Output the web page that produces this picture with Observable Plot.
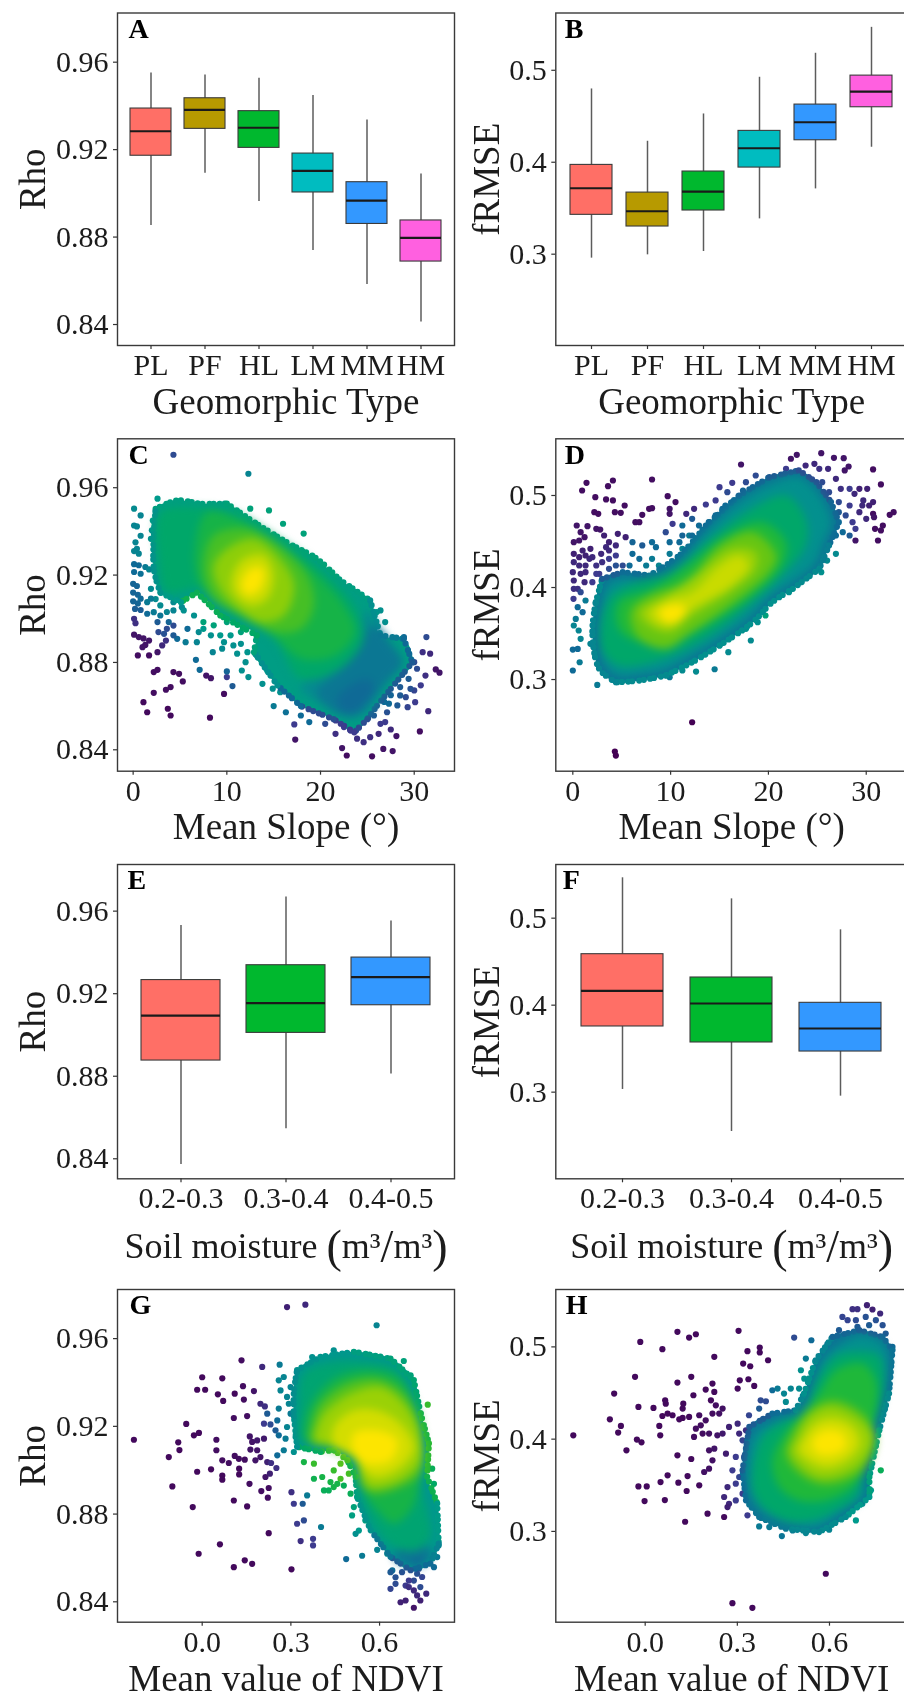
<!DOCTYPE html>
<html><head><meta charset="utf-8">
<script src="https://cdn.jsdelivr.net/npm/d3@7"></script>
<script src="https://cdn.jsdelivr.net/npm/@observablehq/plot@0.6"></script>
<style>
html,body{margin:0;padding:0;background:#fff;overflow:hidden}
#page{position:relative;width:904px;height:1698px;overflow:hidden;background:#fff;filter:blur(.35px)}
#page svg{position:absolute;background:transparent}
</style></head><body><div id="page"></div>
<script>
// ---- box-plot statistics ----
const geomorphicTypes=["PL","PF","HL","LM","MM","HM"];
const moistureClasses=["0.2-0.3","0.3-0.4","0.4-0.5"];
const aLow=[.8853,.9092,.8963,.8738,.8583,.8411];
const aQ1=[.9172,.9295,.9208,.9004,.8860,.8688];
const aMed=[.9284,.9382,.9300,.9103,.8967,.8796];
const aQ3=[.9388,.9435,.9376,.9182,.9051,.8876];
const aHigh=[.9551,.9541,.9527,.9448,.9336,.9089];
const bLow=[.2957,.2993,.3029,.3384,.3710,.4163];
const bQ1=[.3428,.3301,.3475,.3942,.4239,.4598];
const bMed=[.3717,.3467,.3681,.4152,.4435,.4768];
const bQ3=[.3971,.3670,.3899,.4341,.4627,.4942];
const bHigh=[.4797,.4228,.4525,.4924,.5185,.5467];
const eLow=[.8372,.8545,.8811];
const eQ1=[.8876,.9010,.9144];
const eMed=[.9094,.9154,.9280];
const eQ3=[.9266,.9338,.9375];
const eHigh=[.9531,.9668,.9552];
const fLow=[.3031,.2548,.2954];
const fQ1=[.3755,.3571,.3467];
const fMed=[.4165,.4019,.3732];
const fQ3=[.4586,.4318,.4027];
const fHigh=[.5464,.5222,.4866];
const geoColors=["#FF6F66","#B79A00","#00B82E","#00BCC0","#3398FF","#FF60E0"];
const moistColors=["#FF6F66","#00B82E","#3398FF"];

// ---- scatter: individually visible points [x, y, density] ----
const cDots=[[4.3,.9751,.2],[12.3,.9664,.38],[2.6,.955,.45],[.1,.9504,.4],[.8,.9473,.38],[.1,.9427,.38],[.4,.9423,.38],[2.1,.945,.45],[2,.9405,.42],[1.9,.9366,.42],[.8,.938,.38],[.25,.935,.38],[.4,.932,.38],[.1,.931,.38],[.6,.9298,.38],[12.5,.9504,.5],[14.5,.9496,.5],[16,.9435,.5],[18.2,.939,.5],[.1,.925,.3],[.6,.9245,.3],[1.3,.9237,.35],[.1,.9214,.3],[.8,.9206,.32],[1.7,.9226,.38],[0,.916,.28],[.4,.915,.28],[0,.912,.28],[.5,.911,.28],[0,.908,.28],[.5,.907,.28],[.2,.9045,.26],[.8,.904,.26],[.1,.9,.12],[.25,.898,.12],[.1,.8927,.05],[.6,.8916,.05],[1.1,.891,.05],[1.7,.89,.05],[1.3,.888,.05],[1,.887,.05],[.5,.8832,.03],[1.7,.8832,.03],[2.6,.8847,.05],[3.1,.8878,.1],[3.5,.89,.12],[2.2,.8756,.03],[2.6,.8766,.03],[4.3,.8756,.03],[4.9,.8748,.03],[5.3,.8713,.03],[4,.8687,.03],[3.5,.8675,.03],[2.2,.8661,.03],[1.1,.8618,.02],[1.5,.8572,.02],[3.7,.8588,.02],[4,.8557,.02],[8.2,.8547,.02],[9.7,.8656,.03],[10.6,.8692,.25],[10,.8733,.15],[10,.8759,.28],[8.3,.8728,.05],[7.8,.874,.05],[7.1,.8766,.3],[6.7,.8812,.3],[2.7,.8939,.2],[3.6,.8954,.2],[4.3,.8969,.2],[4.7,.8908,.3],[5.6,.8893,.35],[6.8,.8893,.38],[7,.8939,.4],[8.3,.8924,.42],[8.5,.8847,.38],[9.5,.8863,.4],[11.1,.884,.42],[12,.8801,.42],[11.6,.8763,.42],[12.3,.8733,.42],[13.6,.8817,.45],[14.3,.8763,.45],[13.8,.8702,.42],[14.9,.868,.42],[15.7,.8664,.42],[15,.86,.35],[16.3,.8572,.32],[17.2,.8516,.15],[17.3,.8447,.05],[1.9,.9137,.4],[2.4,.909,.4],[2.9,.9061,.4],[3.6,.9031,.38],[4.3,.9038,.38],[5.2,.9053,.4],[3.8,.8985,.28],[2.2,.903,.35],[1.5,.9076,.35],[7.5,.8985,.5],[8.6,.897,.5],[10,.8985,.5],[11.5,.8939,.5],[12.9,.8939,.5],[14,.891,.5],[15,.8832,.5],[16.4,.874,.48],[17.7,.8664,.45],[22.3,.8408,.05],[22.8,.8374,.03],[25.5,.837,.03],[26.7,.8404,.05],[27.7,.8394,.05],[30.6,.8484,.03],[31.5,.8577,.1],[28.1,.8463,.05],[27.5,.8493,.1],[26.2,.8473,.1],[25.3,.8458,.12],[24.6,.8435,.12],[23.9,.8451,.12],[23.2,.8488,.15],[21.6,.8473,.12],[20.5,.8519,.2],[18.8,.8527,.3],[17.9,.8557,.3],[22.5,.8504,.15],[24.1,.8504,.15],[25.7,.8557,.25],[27.1,.8572,.22],[26.4,.8519,.15],[26.9,.8527,.15],[31.3,.8916,.2],[28.9,.8916,.3],[30.9,.8847,.12],[31.7,.884,.1],[32.3,.8768,.05],[32.7,.8753,.05],[31.2,.874,.12],[30,.8801,.2],[30.3,.8771,.2],[29.4,.8725,.25],[30.7,.8695,.15],[30,.8672,.18],[29.1,.8641,.2],[30.1,.8618,.15],[29.3,.8595,.18],[28.5,.8687,.25],[27.7,.8725,.28],[27.1,.8664,.28],[28.2,.8603,.25],[27.3,.8611,.3],[26.2,.8626,.33],[26.8,.8847,.32],[27.8,.8878,.3],[26,.9031,.45],[26.9,.8985,.42],[26.4,.9038,.42],
[7.5,.9122,.55],[8.3,.9084,.58],[9,.9053,.58],[10,.9023,.58],[11.5,.8992,.58],[12.9,.8969,.58],[14.3,.8931,.55],[14.3,.8878,.5],[15.7,.8847,.5],[16.1,.8786,.48],[17.2,.8725,.45],[18.4,.868,.42],[19.6,.8641,.38],[21.1,.8603,.33],[23.2,.8534,.25],[13.2,.8832,.45],[14,.8817,.45],[12.2,.8847,.43],[10.7,.8878,.42],[11.5,.8885,.42],[9.7,.8893,.42],[9.3,.8924,.45],[10.4,.8924,.45],[7.5,.8954,.45],[5.8,.8954,.3],[4.3,.8924,.25],[3.3,.8931,.22],[2.9,.9015,.33],[4.3,.9076,.4],[5.4,.9038,.42],[6.5,.9015,.42],[1.9,.9092,.35],[.8,.9092,.3],[1.5,.9023,.3],[2.6,.8985,.25],[26.1,.8817,.3],[27.5,.88,.25],[28.5,.8771,.22],[28.9,.8817,.22],[26,.8725,.3],[25.3,.8679,.3],[25,.8634,.3],[26.8,.8619,.3],[27.5,.865,.28],[28.5,.8649,.25],[29.6,.8679,.22]];
const dDots=[[.95,.5054,.03],[1.4,.5138,.03],[3.6,.5101,.03],[4.1,.5163,.03],[8.1,.5174,.03],[17.2,.5337,.05],[22.3,.5399,.05],[22.9,.5442,.05],[25.4,.546,.05],[26.7,.5409,.05],[27.7,.5406,.05],[28.2,.5315,.05],[27.8,.5272,.05],[26.1,.529,.1],[30.7,.5283,.03],[31.5,.512,.03],[30.7,.4801,.03],[32.4,.479,.03],[32.8,.4819,.03],[31.7,.4674,.03],[30.9,.4638,.03],[31.5,.462,.03],[31.2,.4511,.03],[28.9,.4511,.05],[29.3,.5072,.08],[30.1,.5072,.08],[28.8,.5018,.1],[29.7,.4946,.1],[30.3,.4891,.08],[29.3,.4819,.1],[30,.4746,.1],[30.8,.4764,.05],[28.3,.4891,.15],[27.4,.5072,.12],[26.9,.5181,.1],[24.7,.5344,.1],[25.2,.529,.12],[23.8,.5326,.1],[21.8,.529,.15],[18.7,.5217,.2],[17.7,.5145,.2],[15,.509,.15],[16.3,.5138,.15],[15.8,.5036,.2],[13.6,.4902,.15],[14.6,.4946,.15],[12.4,.4855,.1],[11.6,.4801,.1],[10.5,.4928,.03],[9.7,.4993,.03],[9.9,.4855,.05],[9.9,.4801,.05],[8.1,.4862,.03],[7.8,.4855,.03],[7.1,.479,.03],[6.4,.471,.03],[6.8,.471,.03],[5.3,.4891,.03],[4.3,.4819,.03],[4.9,.4812,.03],[3.4,.4957,.03],[4.1,.4946,.03],[2.3,.4982,.03],[2.2,.4819,.03],[2.6,.4801,.03],[1.5,.4667,.05],[.4,.4674,.05],[2.4,.4638,.05],[2.8,.463,.05],[.8,.4601,.05],[1.2,.4547,.05],[.1,.4493,.05],[.65,.4511,.05],[3.2,.4565,.08],[3.7,.4493,.08],[4.6,.4583,.08],[5.4,.4547,.08],[4.4,.4457,.1],[3.4,.4438,.1],[1,.4402,.08],[1.8,.442,.08],[.1,.4366,.08],[.1,.4275,.1],[.65,.4239,.1],[0,.4167,.1],[.8,.4149,.1],[.1,.4076,.1],[1.2,.4058,.1],[.5,.3986,.12],[1.7,.4312,.1],[2.4,.4239,.12],[3,.4275,.12],[3.7,.4312,.15],[4.4,.4348,.15],[5.1,.4239,.2],[2.7,.4149,.15],[2,.4058,.15],[.07,.3877,.15],[1.3,.3859,.35],[.5,.3786,.3],[1,.3732,.3],[.3,.3659,.35],[.1,.3587,.38],[.6,.3533,.38],[.8,.3442,.38],[0,.3326,.3],[.5,.3333,.3],[.7,.3188,.35],[0,.3098,.3],[2.5,.2942,.35],[1.8,.3388,.38],[2.2,.3514,.4],[18.2,.3424,.4],[15.9,.3297,.4],[14.5,.3112,.35],[12.6,.3087,.4],[11.2,.3098,.4],[9.9,.3025,.35],[9.2,.308,.42],[6.1,.3007,.4],[4.6,.2978,.38],[12.2,.2536,0],[4.3,.2217,0],[4.4,.2174,0],[26.9,.4366,.4],[26,.4293,.4],[25.4,.4167,.42],[23.2,.4058,.42],[22.1,.3949,.42],[20.8,.3895,.5],[19.7,.3696,.5],[18.9,.3623,.42],[17.7,.3551,.42],[16.7,.3514,.42],[15,.337,.42],[27.6,.4601,.3],[28.3,.4565,.25],[27.2,.4819,.25],[11.9,.4565,.35],[12.9,.4674,.3],[11.2,.4674,.3],[12.2,.4746,.25],[13.9,.471,.3],[9.9,.4493,.3],[8.5,.4438,.3],[7.1,.4457,.25],[6.1,.4366,.3],[8.8,.4239,.38],[7.5,.4239,.35],[10.9,.4493,.3],[15.6,.4891,.3],
[6.1,.4493,.28],[8.1,.4493,.3],[9.5,.4601,.2],[10.2,.4692,.15],[11.2,.4565,.28],[12.2,.4565,.3],[13.3,.4601,.3],[14.6,.4783,.3],[15.3,.4855,.3],[16.3,.4928,.3],[17.4,.5054,.28],[20.1,.5163,.25],[8.1,.4312,.35],[9.9,.4366,.35],[11.2,.442,.38],[12.2,.4457,.38],[6.8,.4312,.3],[5.8,.4239,.3],[4.4,.4239,.22],[3.7,.4203,.2],[2.4,.4149,.15],[1.3,.4167,.1],[1.3,.4239,.1],[.65,.433,.08],[1.3,.4348,.08],[2,.433,.1],[2.9,.4366,.1],[3.7,.4402,.1],[.1,.3986,.12],[.8,.3949,.2],[28.6,.471,.15],[27.9,.4783,.2],[28.9,.4638,.15],[26.9,.4565,.3],[26.2,.5036,.2],[25.5,.5145,.2],[27.2,.4928,.2],[28.3,.5072,.15],[29.6,.4891,.1],[30.7,.4928,.08]];
const gDots=[[-.231,.9139,.02],[-.113,.906,.02],[-.101,.8926,.02],[-.081,.9127,.02],[-.077,.9092,.02],[-.054,.9211,.02],[-.028,.9159,.02],[-.011,.917,.02],[-.017,.9367,.02],[.01,.9367,.02],[0,.9424,.02],[.068,.9419,.02],[.053,.9346,.02],[.071,.9316,.02],[.11,.9349,.02],[.138,.9383,.03],[.141,.9322,.03],[.175,.9361,.05],[.133,.9501,.03],[.203,.9471,.1],[.262,.9481,.35],[.287,.9744,.08],[.349,.9755,.1],[.59,.9661,.38],[.682,.9498,.5],[.445,.9547,.42],[.372,.9516,.42],[.763,.9299,.68],[.705,.9433,.5],[.107,.9238,.03],[.152,.9247,.03],[.048,.9139,.03],[.048,.9091,.03],[.068,.9045,.03],[.09,.9033,.03],[.11,.9065,.03],[.124,.9052,.03],[.144,.9048,.03],[.161,.9154,.05],[.163,.9094,.05],[.169,.9129,.05],[.186,.9136,.06],[.209,.9144,.06],[.186,.9091,.05],[.18,.9045,.05],[.197,.906,.05],[.22,.9037,.08],[.233,.9033,.12],[.03,.9004,.02],[-.017,.8993,.02],[.068,.8976,.02],[.068,.8957,.02],[.125,.9007,.02],[.125,.8981,.02],[.214,.8969,.05],[.229,.8984,.08],[.251,.901,.12],[.16,.8938,.03],[.2,.8905,.03],[.225,.8919,.03],[.222,.8875,.03],[.107,.8862,.02],[.152,.8835,.02],[-.032,.8832,.02],[.225,.8713,.02],[.06,.8662,.02],[-.012,.8619,.02],[.107,.8558,.02],[.144,.8589,.02],[.169,.8573,.02],[.302,.8548,.02],[.302,.89,.12],[.31,.8847,.15],[.34,.8847,.25],[.355,.8885,.35],[.321,.8756,.15],[.344,.8771,.2],[.333,.8677,.12],[.375,.8687,.15],[.375,.8657,.15],[.402,.8741,.35],[.487,.8595,.3],[.541,.861,.35],[.592,.8637,.38],[.197,.9303,.1],[.212,.9291,.12],[.22,.9258,.25],[.209,.9212,.15],[.231,.9209,.2],[.254,.9227,.3],[.259,.9281,.35],[.248,.9182,.25],[.259,.9159,.3],[.282,.9144,.35],[.276,.9091,.35],[.254,.9068,.3],[.299,.9258,.35],[.287,.9334,.38],[.265,.9364,.38],[.276,.9425,.38],[.259,.941,.38],[.299,.9379,.38],[.293,.9303,.38],[.316,.9151,.42],[.31,.9083,.42],[.287,.9197,.38],[.344,.9037,.62],[.378,.903,.68],[.378,.8961,.6],[.406,.8969,.62],[.434,.8946,.62],[.412,.8908,.58],[.428,.8908,.58],[.468,.8961,.7],[.479,.893,.58],[.502,.8893,.58],[.513,.8832,.5],[.507,.8794,.48],[.53,.8725,.45],[.552,.8771,.48],[.626,.8619,.4],[.643,.8543,.3],[.654,.8482,.2],[.637,.8459,.18],[.688,.8474,.15],[.716,.8497,.2],[.738,.8467,.2],[.758,.8437,.1],[.671,.8398,.08],[.688,.8406,.08],[.716,.8373,.05],[.738,.8406,.08],[.727,.8528,.22],[.784,.8558,.3],[.795,.8604,.35],[.8,.8657,.38],[.784,.8938,.55],[.778,.9007,.58],[.699,.8497,.15],[.744,.8513,.18],[.733,.8551,.2],
[.716,.8452,.1],[.699,.8467,.12],[.727,.8429,.1],[.637,.8535,.25],[.654,.8512,.22],[.676,.8535,.22],[.519,.871,.42],[.445,.8999,.68],[.468,.903,.72],[.496,.8984,.7],[.445,.8923,.62],[.457,.8938,.62]];
const hDots=[[-.234,.4042,.02],[-.115,.4215,.02],[-.101,.4494,.02],[-.088,.4071,.02],[-.079,.4143,.02],[-.061,.3879,.02],[-.033,.4675,.02],[-.027,.3995,.02],[-.012,.3966,.02],[-.016,.5054,.02],[-.022,.4349,.02],[.027,.4338,.02],[.046,.4143,.02],[.049,.4042,.02],[.056,.4975,.02],[.065,.4421,.02],[.067,.4385,.02],[.056,.4251,.02],[.073,.4277,.02],[.089,.4259,.02],[.105,.4613,.02],[.105,.5163,.02],[.143,.5101,.02],[.165,.5137,.02],[.15,.4675,.02],[.157,.4476,.02],[.124,.4385,.02],[.122,.4331,.02],[.111,.4215,.02],[.122,.423,.02],[.143,.4241,.02],[.105,.3825,.02],[.15,.3785,.02],[.073,.3608,.02],[.05,.3535,.02],[.108,.3528,.02],[.138,.36,.02],[.135,.3438,.02],[.176,.3499,.02],[-.022,.3488,.02],[.005,.3488,.02],[-.002,.3329,.02],[.064,.334,.02],[.13,.3105,.02],[.203,.3192,.02],[.257,.3156,.02],[.197,.4537,.02],[.225,.4892,.02],[.219,.4602,.02],[.225,.4512,.02],[.214,.4421,.02],[.23,.4367,.03],[.252,.4331,.04],[.219,.4277,.03],[.241,.4277,.04],[.176,.4259,.03],[.197,.4204,.03],[.181,.415,.03],[.165,.4114,.03],[.159,.4024,.03],[.187,.406,.03],[.208,.406,.04],[.235,.4042,.05],[.252,.406,.06],[.208,.3879,.04],[.225,.3897,.05],[.263,.3843,.07],[.219,.377,.04],[.208,.368,.04],[.192,.3644,.04],[.273,.4132,.08],[.301,.4168,.1],[.306,.406,.1],[.328,.4096,.12],[.304,.5174,.02],[.333,.4953,.02],[.373,.4993,.02],[.373,.4939,.02],[.4,.4855,.02],[.319,.4819,.02],[.342,.479,.02],[.308,.4638,.02],[.301,.4548,.02],[.336,.4649,.02],[.355,.4577,.02],[.284,.2222,.02],[.349,.2172,.02],[.588,.2541,.02],[.376,.4421,.2],[.393,.4411,.2],[.371,.4331,.25],[.338,.4259,.18],[.414,.453,.3],[.431,.4548,.35],[.452,.4494,.38],[.474,.4548,.38],[.501,.4548,.4],[.485,.5101,.2],[.541,.5072,.3],[.523,.4873,.35],[.593,.5029,.35],[.507,.4747,.42],[.518,.4656,.42],[.458,.4403,.4],[.49,.4277,.42],[.295,.3807,.15],[.284,.3662,.15],[.295,.3517,.15],[.268,.3481,.1],[.257,.3373,.1],[.273,.33,.1],[.295,.3336,.15],[.268,.3264,.08],[.333,.3174,.15],[.317,.3409,.15],[.306,.359,.18],[.322,.3807,.2],[.317,.3987,.18],[.338,.3969,.25],[.371,.3054,.35],[.445,.2949,.33],[.404,.3047,.35],[.523,.2982,.38],[.599,.3018,.38],[.48,.3011,.35],[.686,.3119,.45],[.707,.33,.42],[.767,.3662,.58],[.735,.3445,.45],[.653,.3228,.42],[.789,.4458,.38],[.778,.4313,.42],[.794,.4675,.35],[.805,.5,.3],[.675,.5409,.12],[.691,.5409,.12],[.722,.5452,.08],[.74,.5405,.08],[.765,.5362,.1],[.642,.5325,.18],[.659,.5289,.18],[.686,.5289,.2],[.718,.5325,.22],[.751,.5289,.22],[.773,.5235,.22],[.783,.5145,.25],[.631,.5181,.25],[.691,.5217,.25],[.729,.5235,.25]];

// ---- scatter: outline of the solid cloud [x, y, density at that edge] ----
const cOutline=[[2.4,.9503,.48],[4.7,.9542,.48],[7.2,.9527,.48],[10,.9527,.5],[12.9,.9443,.5],[16.4,.935,.5],[19.6,.9275,.5],[22,.918,.48],[25.3,.9084,.42],[26.4,.8924,.35],[28.9,.8908,.3],[29.8,.88,.25],[27.8,.8695,.25],[26,.86,.25],[25,.854,.2],[23.6,.848,.15],[21.4,.854,.2],[17.9,.86,.3],[15.4,.8695,.42],[12.9,.8847,.5],[13.2,.8924,.55],[9.3,.9015,.58],[6.8,.912,.6],[5.1,.9076,.45],[2.9,.912,.42],[2.2,.923,.42]];
const dOutline=[[2.35,.3841,.4],[3,.4094,.25],[5.1,.4167,.3],[7.8,.413,.32],[10.9,.4348,.32],[13.6,.4674,.3],[17,.5,.28],[20.1,.5199,.25],[23.1,.5272,.2],[24.9,.5145,.22],[26.4,.4928,.28],[27.2,.471,.3],[26.2,.4457,.36],[25.2,.4203,.4],[22.5,.3986,.42],[20.4,.3841,.42],[18.4,.3623,.42],[15,.337,.42],[12.2,.3188,.42],[9.5,.3043,.4],[6.8,.2989,.4],[4.4,.2971,.38],[2.7,.3116,.38],[2,.3514,.38]];
const gOutline=[[.321,.9456,.42],[.4,.9517,.44],[.513,.954,.48],[.637,.9509,.5],[.716,.9411,.52],[.739,.9259,.62],[.767,.9122,.66],[.761,.897,.6],[.795,.8848,.46],[.8,.8665,.38],[.772,.8574,.3],[.705,.8544,.22],[.637,.8605,.33],[.57,.8726,.42],[.524,.8878,.48],[.519,.897,.6],[.491,.9046,.7],[.445,.9092,.65],[.4,.9084,.55],[.321,.9107,.42],[.31,.9247,.4],[.31,.9354,.4]];
const hOutline=[[.339,.4132,.25],[.414,.4277,.3],[.49,.4313,.38],[.517,.4494,.42],[.555,.4855,.38],[.61,.5108,.28],[.697,.5181,.25],[.773,.5108,.28],[.805,.4964,.32],[.794,.4494,.38],[.762,.4096,.46],[.73,.3589,.5],[.73,.3373,.45],[.653,.3156,.4],[.566,.2993,.38],[.458,.3029,.34],[.371,.3156,.33],[.328,.3337,.3],[.317,.3662,.25]];

// ---- scatter: density bands inside the cloud [density, outline] ----
const cBands=[
 [.4,[[25,.9038],[26.7,.8916],[28.8,.88],[27.1,.8704],[25,.8567],[22.5,.8551],[20,.8612],[17.9,.8684],[20.7,.8771],[23.6,.8893]]],
 [.34,[[25.7,.8969],[27.7,.8878],[28.8,.88],[27.2,.8715],[25.5,.8638],[23.6,.855],[21,.8587],[19.6,.8664],[22.8,.879]]],
 [.3,[[25,.8725],[25.8,.8669],[24.1,.8582],[22.5,.8572],[21.8,.8638]]],
 [.54,[[2.9,.9489],[7.2,.9511],[10.7,.9489],[15,.9382],[19.6,.9244],[23.6,.9061],[24.6,.8908],[22.1,.8771],[17.9,.8725],[15,.8908],[10.7,.9015],[7.2,.9137],[3.6,.9122],[2.7,.9275]]],
 [.62,[[7.9,.9488],[11.5,.945],[15.1,.935],[19,.9225],[22.6,.9055],[23.7,.8939],[21.6,.8832],[18,.8817],[14.5,.8939],[11.6,.9015],[8.8,.9076],[7,.9168],[6.6,.9321]]],
 [.7,[[8.6,.9382],[12.2,.9412],[15.7,.9336],[18.6,.9198],[19.3,.9061],[17.9,.8954],[15,.8939],[11.5,.9015],[8.6,.9092],[7.5,.9229]]],
 [.8,[[10,.9321],[12.9,.9366],[15.7,.9275],[17.2,.9153],[16.1,.9015],[13.6,.8985],[10.7,.9061],[9,.9153],[8.6,.9244]]],
 [.9,[[11.8,.9275],[14,.929],[15,.9198],[14.3,.9092],[12.5,.9061],[10.7,.9122],[10.6,.9198]]],
 [1,[[12.5,.9229],[13.9,.9229],[13.6,.9137],[12.2,.9107],[11.5,.9153]]]
];
const dBands=[
 [.42,[[3,.3841],[3.6,.4035],[5.3,.41],[7.9,.4075],[11,.428],[13.7,.461],[17.1,.4935],[20.2,.5125],[23,.52],[24.5,.5095],[25.8,.49],[26.4,.47],[25.6,.4475],[24.7,.425],[22.2,.404],[20.2,.39],[18.1,.368],[14.8,.3425],[12,.325],[9.4,.3105],[6.8,.3055],[4.6,.304],[3.2,.3175],[2.6,.352]]],
 [.54,[[3.7,.3877],[6.4,.4058],[9.9,.4167],[13.6,.4493],[17.7,.4819],[21.8,.5],[23.8,.4746],[23.8,.4457],[21.1,.4094],[18.4,.3841],[15,.3551],[11.6,.3333],[8.1,.3188],[4.7,.3152],[3,.3333]]],
 [.65,[[4.7,.3841],[8.1,.3986],[12.2,.4275],[15.6,.4565],[19.4,.471],[21.8,.4493],[21.4,.4239],[18.4,.3913],[14.3,.3623],[10.2,.3406],[6.8,.3406],[4.7,.3551]]],
 [.74,[[5.9,.3732],[7.8,.3913],[11.6,.4058],[15,.4457],[18.4,.4601],[20.8,.4348],[20.1,.4167],[17,.3877],[12.2,.3514],[9.5,.3333],[6.8,.3442]]],
 [.82,[[6.8,.3732],[9.5,.3913],[12.9,.4167],[16.3,.442],[18.7,.4384],[18.7,.4203],[16,.3949],[12.2,.3696],[9.9,.3514],[7.8,.3587]]],
 [.9,[[7.8,.3732],[9.9,.3877],[12.2,.3949],[15,.4239],[17,.4348],[18,.4239],[16.3,.4022],[12.2,.3768],[10.2,.3587],[8.5,.3623]]],
 [1,[[8.8,.375],[10.5,.3822],[11.6,.3768],[10.9,.3641],[9.5,.3623]]]
];
const gBands=[
 [.34,[[.648,.8619],[.727,.8665],[.775,.8634],[.76,.8578],[.705,.8564],[.66,.8584]]],
 [.3,[[.716,.8604],[.755,.8589],[.745,.8565],[.705,.8564]]],
 [.52,[[.344,.944],[.445,.9494],[.558,.9494],[.648,.947],[.705,.9364],[.727,.9227],[.738,.9091],[.738,.8938],[.761,.8817],[.772,.8695],[.727,.8634],[.648,.8649],[.592,.8726],[.547,.8848],[.534,.8938],[.513,.904],[.4,.9127],[.333,.9132],[.327,.9274]]],
 [.62,[[.383,.9334],[.457,.9425],[.558,.9456],[.66,.9425],[.716,.9319],[.744,.9182],[.744,.9015],[.733,.8923],[.705,.8817],[.648,.8756],[.592,.8817],[.557,.8878],[.534,.8938],[.513,.904],[.434,.9096],[.355,.9127],[.349,.9228]]],
 [.72,[[.4,.9303],[.49,.9395],[.592,.9417],[.682,.9349],[.733,.9227],[.75,.906],[.738,.8984],[.671,.8923],[.581,.8893],[.54,.8923],[.52,.904],[.434,.9106],[.366,.9127],[.372,.9212]]],
 [.82,[[.412,.9258],[.502,.9349],[.603,.9379],[.682,.9303],[.733,.9182],[.738,.9045],[.671,.8954],[.569,.8923],[.54,.8969],[.52,.905],[.434,.9111],[.383,.9136],[.389,.9197]]],
 [.92,[[.445,.9197],[.513,.9273],[.592,.9273],[.671,.9212],[.716,.9106],[.671,.9014],[.592,.8969],[.546,.9],[.512,.906],[.445,.9116]]],
 [1,[[.513,.9167],[.592,.9182],[.66,.9136],[.637,.9045],[.558,.903],[.513,.9075]]]
];
const hBands=[
 [.42,[[.355,.406],[.425,.4205],[.501,.4295],[.539,.453],[.577,.4855],[.621,.5],[.702,.5127],[.767,.5054],[.788,.4928],[.778,.4494],[.745,.4096],[.713,.3589],[.713,.339],[.642,.321],[.561,.3047],[.463,.3083],[.382,.321],[.344,.3373],[.333,.3662]]],
 [.54,[[.382,.4024],[.458,.4205],[.523,.4277],[.555,.4602],[.621,.49],[.697,.495],[.762,.49],[.778,.4566],[.74,.4096],[.707,.3626],[.686,.3373],[.621,.3228],[.545,.3119],[.458,.3119],[.382,.3264],[.349,.3481]]],
 [.65,[[.447,.4024],[.501,.4241],[.566,.4494],[.621,.4747],[.707,.4819],[.751,.4638],[.751,.4313],[.729,.4024],[.718,.3698],[.675,.3481],[.588,.3336],[.501,.3336],[.436,.3481],[.414,.3771]]],
 [.74,[[.469,.3987],[.523,.4277],[.61,.4421],[.707,.4277],[.751,.4024],[.718,.3698],[.653,.3553],[.566,.3517],[.49,.3662],[.458,.3843]]],
 [.82,[[.49,.3987],[.534,.4241],[.599,.4349],[.686,.4241],[.74,.4024],[.707,.377],[.642,.3626],[.566,.359],[.501,.3734],[.474,.3879]]],
 [.92,[[.512,.3987],[.555,.4168],[.61,.4222],[.675,.4132],[.697,.3951],[.653,.377],[.588,.3698],[.534,.377],[.501,.3879]]],
 [1,[[.545,.3987],[.588,.4096],[.642,.406],[.653,.3915],[.599,.3825],[.555,.3861]]]
];

const densityStops=[0,.15,.3,.45,.55,.65,.75,.87,1];
const densityColors=["#440154","#3d3b8e","#0f6a96","#009a8c","#00a865","#1fb83a","#6ec60f","#b9d800","#fde500"];
const serif="'Liberation Serif','Times New Roman',serif";
const page=document.getElementById("page");

const bandRows=(bands)=>bands.flatMap(([level,pts],i)=>pts.map(([x,y])=>({x,y,level,band:i})));

function panel({left,cellTop,cellH,pl,pr,pt,pb,letter,letterDx,marks,x,y,xTicks,xFmt,yTicks,yFmt,xLabel,yLabel,xLabelOffset,yLabelOffset}){
  const svg=Plot.plot({
    width:pr-left,height:cellH,
    marginLeft:pl-left,marginRight:0,marginTop:pt-cellTop,marginBottom:cellTop+cellH-pb,
    x,y,
    color:{type:"linear",domain:densityStops,range:densityColors},
    style:{fontFamily:serif,background:"transparent",overflow:"visible",color:"#1c1c1c"},
    marks:[
      ...marks,
      Plot.frame({stroke:"#3a3a3a",strokeWidth:1.4}),
      Plot.axisY({ticks:yTicks,tickFormat:yFmt,fontSize:30,tickSize:4,tickPadding:5,strokeWidth:1.2,stroke:"#333",
        label:yLabel,labelAnchor:"center",labelArrow:"none",labelOffset:yLabelOffset}),
      Plot.axisX({ticks:xTicks,tickFormat:xFmt,fontSize:30,tickSize:4,tickPadding:4,strokeWidth:1.2,stroke:"#333",
        label:xLabel,labelAnchor:"center",labelArrow:"none",labelOffset:xLabelOffset}),
      Plot.text([letter],{frameAnchor:"top-left",dx:letterDx,dy:5,fontSize:28,fontWeight:"bold",fill:"#000",lineAnchor:"top"})
    ]
  });
  svg.style.left=left+"px";svg.style.top=cellTop+"px";
  svg.querySelectorAll("text").forEach(t=>{
    const s=t.textContent;
    if(s.includes("⚠")) {t.remove();return;}
    if(s===yLabel) t.setAttribute("font-size","37");
    if(s===xLabel){
      t.setAttribute("font-size","37");
      if(s.startsWith("Soil")){
        t.setAttribute("font-size","36");
        t.innerHTML='Soil moisture <tspan font-size="46" dy="4">(</tspan><tspan dy="-4">m³</tspan><tspan font-size="46" dy="4">/</tspan><tspan dy="-4">m³</tspan><tspan font-size="46" dy="4">)</tspan>';
      }
    }
  });
  page.appendChild(svg);
}

function boxPanel(cats,low,q1,med,q3,high,colors,opts){
  const rows=cats.map((c,i)=>({c,low:low[i],q1:q1[i],med:med[i],q3:q3[i],high:high[i],col:colors[i]}));
  panel({...opts,
    x:{type:"band",domain:cats,paddingInner:.25,paddingOuter:.225,align:.5},
    marks:[
      Plot.ruleX(rows,{x:"c",y1:"low",y2:"high",stroke:"#5c5c5c",strokeWidth:1.5}),
      Plot.barY(rows,{x:"c",y1:"q1",y2:"q3",fill:d=>d.col,stroke:"#3b3b3b",strokeWidth:1.1}),
      Plot.tickY(rows,{x:"c",y:"med",stroke:"#1a1a1a",strokeWidth:2.2})
    ]});
}

function scatterPanel(dots,outline,bands,opts){
  const dotRows=dots.map(([x,y,level])=>({x,y,level}));
  const edge=[...outline,outline[0]].map(([x,y,level])=>({x,y,level,ring:"edge"}));
  panel({...opts,
    marks:[
      Plot.dot(dotRows,{x:"x",y:"y",r:3.1,fill:"level",stroke:"none"}),
      Plot.line(bandRows([[opts.baseLevel,outline]]),{x:"x",y:"y",z:"band",fill:"level",stroke:"none",curve:"catmull-rom-closed"}),
      Plot.line(edge,{x:"x",y:"y",z:"ring",stroke:"level",strokeWidth:6.2,strokeDasharray:"0 5 0 7 0 4 0 6",strokeLinecap:"round",curve:"catmull-rom"}),
      Plot.line(bandRows(bands),{x:"x",y:"y",z:"band",fill:"level",stroke:"none",curve:"catmull-rom-closed",imageFilter:"blur(4px)"})
    ]});
}

const L={left:0,pl:117,pr:454}, R={left:470,pl:555.3,pr:907};
const f2=d3.format(".2f"), f1=d3.format(".1f");
const rhoAxis={yTicks:[.84,.88,.92,.96],yFmt:f2,yLabel:"Rho",yLabelOffset:99};
const rmseAxis={yTicks:[.3,.4,.5],yFmt:f1,yLabel:"fRMSE",yLabelOffset:83};

boxPanel(geomorphicTypes,aLow,aQ1,aMed,aQ3,aHigh,geoColors,{...L,...rhoAxis,cellTop:0,cellH:425,pt:12.5,pb:345,letter:"A",letterDx:11,
  y:{domain:[.8304,.9825]},xLabel:"Geomorphic Type",xLabelOffset:68});
boxPanel(geomorphicTypes,bLow,bQ1,bMed,bQ3,bHigh,geoColors,{...R,...rmseAxis,cellTop:0,cellH:425,pt:12.5,pb:345,letter:"B",letterDx:9,
  y:{domain:[.2007,.5623]},xLabel:"Geomorphic Type",xLabelOffset:68});

scatterPanel(cDots,cOutline,cBands,{...L,...rhoAxis,baseLevel:.47,cellTop:425,cellH:425,pt:438.3,pb:770.7,letter:"C",letterDx:11,
  x:{domain:[-1.67,34.3]},y:{domain:[.8302,.9824]},xTicks:[0,10,20,30],xFmt:d3.format("d"),xLabel:"Mean Slope (°)",xLabelOffset:68});
scatterPanel(dDots,dOutline,dBands,{...R,...rmseAxis,baseLevel:.33,cellTop:425,cellH:425,pt:438.3,pb:770.7,letter:"D",letterDx:9,
  x:{domain:[-1.74,34.22]},y:{domain:[.2004,.5616]},xTicks:[0,10,20,30],xFmt:d3.format("d"),xLabel:"Mean Slope (°)",xLabelOffset:68});

boxPanel(moistureClasses,eLow,eQ1,eMed,eQ3,eHigh,moistColors,{...L,...rhoAxis,cellTop:850,cellH:420,pt:864,pb:1178.3,letter:"E",letterDx:10,
  y:{domain:[.8303,.9826]},xLabel:"Soil moisture (m³/m³)",xLabelOffset:79});
boxPanel(moistureClasses,fLow,fQ1,fMed,fQ3,fHigh,moistColors,{...R,...rmseAxis,cellTop:850,cellH:420,pt:864,pb:1178.3,letter:"F",letterDx:7,
  y:{domain:[.2004,.5617]},xLabel:"Soil moisture (m³/m³)",xLabelOffset:79});

scatterPanel(gDots,gOutline,gBands,{...L,...rhoAxis,baseLevel:.44,cellTop:1270,cellH:428,pt:1289,pb:1621.7,letter:"G",letterDx:12,
  x:{domain:[-.2865,.8535]},y:{domain:[.8307,.9824]},xTicks:[0,.3,.6],xFmt:f1,xLabel:"Mean value of NDVI",xLabelOffset:69});
scatterPanel(hDots,hOutline,hBands,{...R,...rmseAxis,baseLevel:.33,cellTop:1270,cellH:428,pt:1289,pb:1621.7,letter:"H",letterDx:10,
  x:{domain:[-.291,.854]},y:{domain:[.2016,.5622]},xTicks:[0,.3,.6],xFmt:f1,xLabel:"Mean value of NDVI",xLabelOffset:69});
</script></body></html>
